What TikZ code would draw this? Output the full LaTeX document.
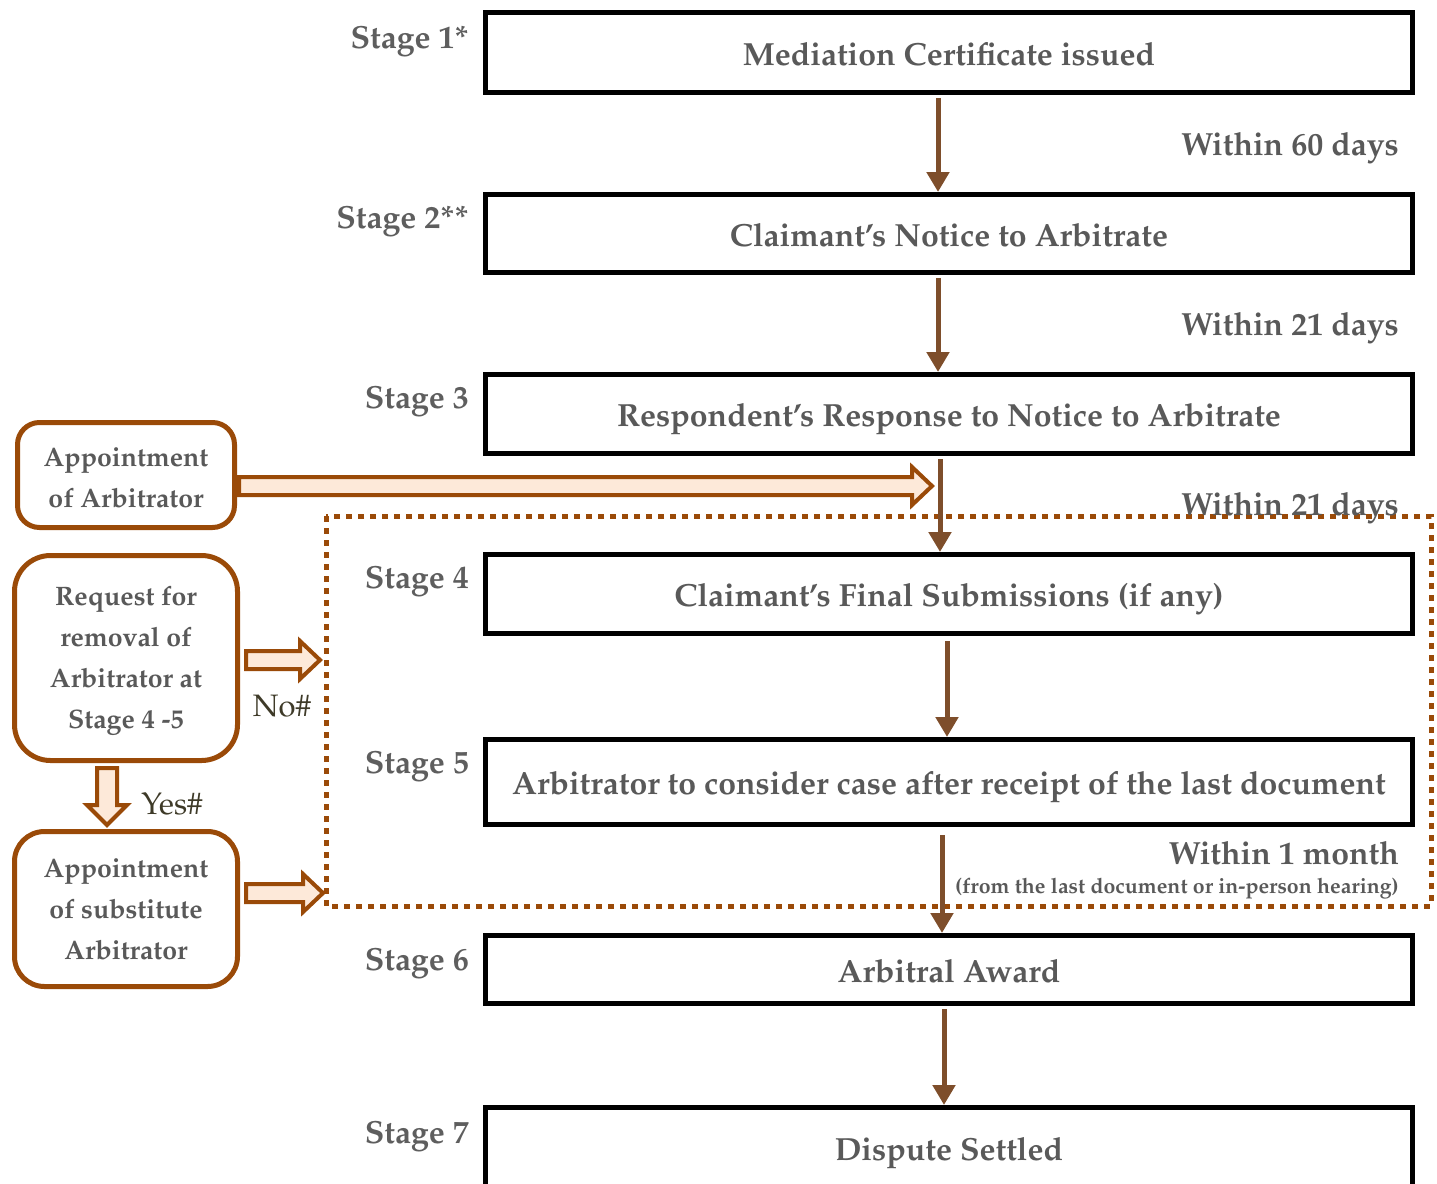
\documentclass[tikz,border=0pt]{standalone}
\usepackage[T1]{fontenc}
\usepackage{mathpazo}
\usetikzlibrary{arrows.meta,calc}
\definecolor{txtgray}{HTML}{595959}
\definecolor{stgray}{HTML}{5E5E5E}
\definecolor{arrbrown}{HTML}{7E4E2B}
\definecolor{boxbrown}{HTML}{9A4A08}
\definecolor{peach}{HTML}{FDE9D9}
\definecolor{olive}{HTML}{3E3A28}
\tikzset{
  mainbox/.style={draw=black, line width=5pt, minimum width=927pt, inner sep=0pt,
    text height=26pt, text depth=1pt,
    font=\bfseries\fontsize{32}{38}\selectfont, text=txtgray},
  stagelbl/.style={anchor=east, inner sep=0pt, font=\bfseries\fontsize{32}{38}\selectfont, text=stgray},
  withinlbl/.style={anchor=east, inner sep=0pt, font=\bfseries\fontsize{32}{38}\selectfont, text=txtgray},
  sidebox/.style={draw=boxbrown, line width=5pt, align=center, inner sep=0pt,
    font=\bfseries\fontsize{26.7}{41}\selectfont, text=txtgray},
  flowarrow/.style={draw=arrbrown, line width=5pt, -{Triangle[width=22pt,length=20pt]}},
  blockarr/.style={draw=boxbrown, fill=peach, line width=4pt, line join=miter},
  dotbox/.style={draw=boxbrown, line width=5pt, dash pattern=on 6pt off 6pt},
  yesno/.style={inner sep=0pt, font=\fontsize{31}{36}\selectfont, text=olive}
}
\newcommand\harrow[2]{%
  \path[blockarr] let \p1=(#1), \p2=(#2) in
    (\x1,\y2+9pt) -- (\x2-20pt,\y2+9pt) -- (\x2-20pt,\y2+19pt) -- (\x2,\y2)
    -- (\x2-20pt,\y2-19pt) -- (\x2-20pt,\y2-9pt) -- (\x1,\y2-9pt) -- cycle;}
\newcommand\varrow[2]{%
  \path[blockarr] let \p1=(#1), \p2=(#2) in
    (\x2-10pt,\y1) -- (\x2-10pt,\y2+20pt) -- (\x2-20pt,\y2+20pt) -- (\x2,\y2)
    -- (\x2+20pt,\y2+20pt) -- (\x2+10pt,\y2+20pt) -- (\x2+10pt,\y1) -- cycle;}
\newcommand\topstrut{\rule{0pt}{25pt}}
\begin{document}
\begin{tikzpicture}[x=1pt,y=-1pt]
\useasboundingbox (0,0) rectangle (1437,1183);
\clip (0,0) rectangle (1437,1183);

% dotted region
\draw[dotbox] (326,516) rectangle (1431,906);

% main boxes
\node[mainbox, minimum height=80pt] (b1) at (949,52.5) {Mediation Certificate issued};
\node[mainbox, minimum height=78pt] (b2) at (949,233.5) {Claimant's Notice to Arbitrate};
\node[mainbox, minimum height=79pt] (b3) at (949,414) {Respondent's Response to Notice to Arbitrate};
\node[mainbox, minimum height=79pt] (b4) at (949,594) {Claimant's Final Submissions (if any)};
\node[mainbox, minimum height=85pt] (b5) at (949,782) {Arbitrator to consider case after receipt of the last document};
\node[mainbox, minimum height=68pt] (b6) at (949,969.5) {Arbitral Award};
\node[mainbox, minimum height=81pt] (b7) at (949,1148) {Dispute Settled};

% stage labels
\node[stagelbl] (s1) at (469,41) {Stage 1*};
\node[stagelbl] (s2) at (469,221) {Stage 2**};
\node[stagelbl] (s3) at (469,401) {Stage 3};
\node[stagelbl] (s4) at (469,581) {Stage 4};
\node[stagelbl] (s5) at (469,766) {Stage 5};
\node[stagelbl] (s6) at (469,963) {Stage 6};
\node[stagelbl] (s7) at (469,1136) {Stage 7};

% within labels
\node[withinlbl] (w1) at (1399,148) {Within 60 days};
\node[withinlbl] (w2) at (1399,328) {Within 21 days};
\node[withinlbl] (w3) at (1399,508) {Within 21 days};
\node[withinlbl] (w4) at (1399,853) {Within 1 month};
\node[anchor=east, inner sep=0pt, font=\bfseries\fontsize{21.3}{25}\selectfont, text=txtgray] (w5) at (1399,889) {(from the last document or in-person hearing)};

% flow arrows
\draw[flowarrow] ([xshift=-11pt,yshift=-3pt]b1.south) -- ([xshift=-11pt]b2.north);
\draw[flowarrow] ([xshift=-11pt,yshift=-3pt]b2.south) -- ([xshift=-11pt]b3.north);
\draw[flowarrow] ([xshift=-9pt,yshift=-3pt]b3.south) -- ([xshift=-9pt]b4.north);
\draw[flowarrow] ([xshift=-2pt,yshift=-5pt]b4.south) -- ([xshift=-2pt]b5.north);
\draw[flowarrow] ([xshift=-7pt,yshift=-8pt]b5.south) -- ([xshift=-7pt]b6.north);
\draw[flowarrow] ([xshift=-5pt,yshift=-3pt]b6.south) -- ([xshift=-5pt]b7.north);

% side boxes
\node[sidebox, minimum width=217pt, minimum height=105pt, rounded corners=22pt] (la) at (126,475) {\topstrut Appointment\\of Arbitrator};
\node[sidebox, minimum width=223pt, minimum height=205pt, rounded corners=36pt] (lr) at (126,658) {\topstrut Request for\\removal of\\Arbitrator at\\Stage 4 -5};
\node[sidebox, minimum width=223pt, minimum height=155pt, rounded corners=30pt] (ls) at (126,909) {Appointment\\of substitute\\Arbitrator};

% block arrows
\coordinate (tA) at (932,486);
\coordinate (tN) at (320,660);
\coordinate (tS) at (323,893);
\coordinate (tY) at (107,825);
\harrow{[xshift=2pt]la.east}{tA}
\harrow{[xshift=6pt]lr.east}{tN}
\harrow{[xshift=6pt]ls.east}{tS}
\varrow{[yshift=-5pt]lr.south}{tY}

\node[yesno] (no) at (282,706) {No\#};
\node[yesno] (yes) at (172,804) {Yes\#};
\end{tikzpicture}
\end{document}
